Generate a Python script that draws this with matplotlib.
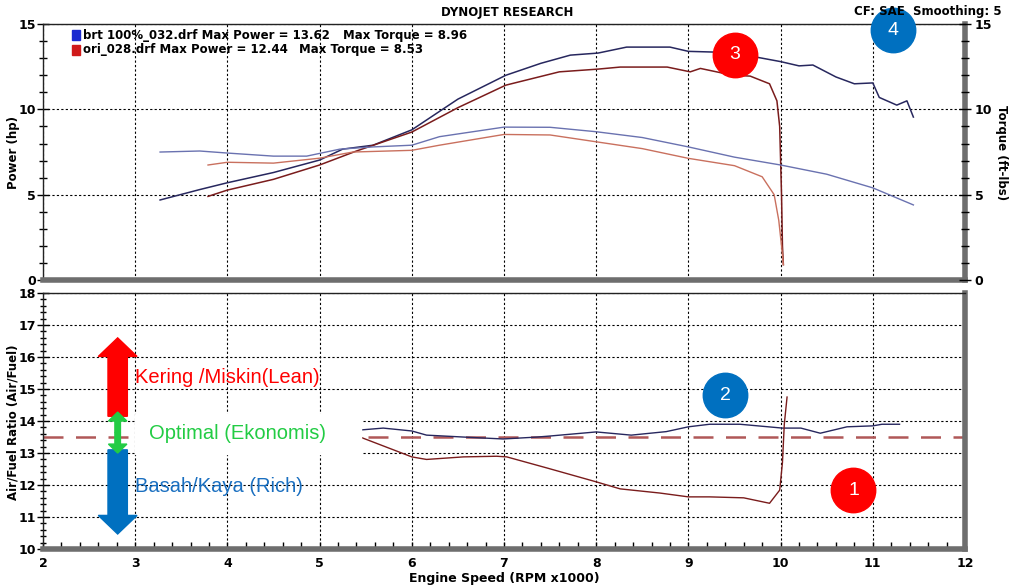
import numpy as np
import matplotlib
matplotlib.use('Agg')
import matplotlib.pyplot as plt
from matplotlib.ticker import MultipleLocator
from matplotlib.patches import FancyArrow, Rectangle

# -------- data read from the dyno sheet --------
# power (hp) vs rpm x1000
rpm_brt_pwr = [3.27, 3.7, 4.0, 4.5, 5.0, 5.25, 5.58, 6.0, 6.5, 7.02, 7.4, 7.72, 8.02, 8.33, 8.8, 9.0,
               9.27, 9.6, 10.0, 10.2, 10.35, 10.6, 10.8, 11.0, 11.07, 11.26, 11.37, 11.44]
brt_power = [4.69, 5.3, 5.7, 6.3, 7.03, 7.67, 7.9, 8.8, 10.6, 12.0, 12.7, 13.18, 13.3, 13.65, 13.65, 13.4,
             13.36, 13.2, 12.8, 12.55, 12.6, 11.9, 11.5, 11.55, 10.7, 10.25, 10.5, 9.55]

rpm_ori_pwr = [3.79, 4.0, 4.5, 5.0, 5.4, 6.0, 6.5, 7.02, 7.6, 8.02, 8.26, 8.77, 9.02, 9.13, 9.48, 9.67,
               9.88, 9.96, 9.99, 10.01, 10.02, 10.03]
ori_power = [4.9, 5.27, 5.9, 6.74, 7.56, 8.67, 10.1, 11.42, 12.2, 12.36, 12.48, 12.48, 12.2, 12.4, 12.0, 11.95,
             11.5, 10.5, 9.0, 5.0, 2.0, 0.9]

# torque (ft-lbs)
rpm_brt_trq = [3.27, 3.7, 4.0, 4.5, 4.86, 5.22, 5.58, 6.0, 6.3, 7.0, 7.5, 8.0, 8.5, 9.0, 9.5, 10.0,
               10.5, 11.0, 11.44]
brt_torque = [7.5, 7.56, 7.44, 7.26, 7.26, 7.67, 7.8, 7.9, 8.4, 8.96, 8.95, 8.69, 8.35, 7.8, 7.2, 6.74,
              6.2, 5.4, 4.4]

rpm_ori_trq = [3.79, 4.0, 4.5, 5.0, 5.36, 6.0, 6.3, 7.0, 7.5, 8.0, 8.5, 9.0, 9.5, 9.8, 9.93, 9.98,
               10.01, 10.03]
ori_torque = [6.74, 6.9, 6.85, 7.14, 7.5, 7.6, 7.9, 8.53, 8.5, 8.1, 7.7, 7.13, 6.7, 6.05, 5.0, 3.5,
              2.0, 0.9]

# air/fuel ratio
rpm_brt_afr = [5.44, 5.69, 6.0, 6.16, 6.56, 6.99, 7.36, 7.49, 8.0, 8.38, 8.76, 9.0, 9.23, 9.56, 10.02,
               10.22, 10.43, 10.72, 11.0, 11.1, 11.29]
brt_afr = [13.72, 13.78, 13.69, 13.56, 13.5, 13.44, 13.5, 13.53, 13.66, 13.56, 13.67, 13.82, 13.9, 13.9,
           13.78, 13.78, 13.62, 13.82, 13.85, 13.9, 13.9]

rpm_ori_afr = [5.44, 6.0, 6.16, 6.56, 6.92, 7.03, 7.47, 8.0, 8.26, 8.69, 9.0, 9.23, 9.6, 9.88, 9.99,
               10.02, 10.04, 10.07]
ori_afr = [13.5, 12.88, 12.8, 12.88, 12.9, 12.88, 12.53, 12.1, 11.88, 11.75, 11.63, 11.63, 11.6, 11.43,
           11.84, 12.7, 13.9, 14.75]

afr_target = 13.5

legend_files = ['brt 100%_032.drf Max Power = 13.62', 'ori_028.drf Max Power = 12.44']
legend_torque = ['Max Torque = 8.96', 'Max Torque = 8.53']

# -------- figure --------
fig = plt.figure(figsize=(10.09, 5.87), dpi=100)
fig.patch.set_facecolor('white')

ax1 = fig.add_axes([0.0426, 0.523, 0.9138, 0.436])
ax2 = fig.add_axes([0.0426, 0.0647, 0.9138, 0.436])

bold = dict(fontweight='bold', fontsize=8.5, family='DejaVu Sans')

for ax in (ax1, ax2):
    ax.set_xlim(2, 12)
    ax.xaxis.set_major_locator(MultipleLocator(1))
    ax.xaxis.set_minor_locator(MultipleLocator(0.2))
    ax.grid(True, which='major', color='black', linestyle=(0, (2, 2)), linewidth=0.8)
    for s in ('left', 'top'):
        ax.spines[s].set_color('#222222')
        ax.spines[s].set_linewidth(1.0)
    for s in ('right', 'bottom'):
        ax.spines[s].set_color('#6e6e6e')
        ax.spines[s].set_linewidth(4)
    ax.tick_params(axis='y', which='both', direction='inout', length=8, width=1, labelsize=9, pad=1)
    ax.tick_params(axis='y', which='minor', length=6)
    ax.tick_params(axis='x', which='both', direction='in', length=5, width=1)

# top panel: power / torque
ax1.set_ylim(0, 15)
ax1.yaxis.set_major_locator(MultipleLocator(5))
ax1.yaxis.set_minor_locator(MultipleLocator(1))
ax1.tick_params(axis='x', which='both', length=0, labelbottom=False)
for lab in ax1.get_yticklabels():
    lab.set_fontweight('bold')
fig.text(0.013, 0.74, 'Power (hp)', rotation=90, ha='center', va='center', **bold)

ax1.plot(rpm_brt_pwr, brt_power, color='#27275e', lw=1.1)
ax1.plot(rpm_ori_pwr, ori_power, color='#7a1c1c', lw=1.1)
ax1.plot(rpm_brt_trq, brt_torque, color='#6a72b0', lw=1.0)
ax1.plot(rpm_ori_trq, ori_torque, color='#c9705e', lw=1.0)

ax1r = ax1.twinx()
ax1r.set_ylim(0, 15)
ax1r.yaxis.set_major_locator(MultipleLocator(5))
ax1r.yaxis.set_minor_locator(MultipleLocator(1))
ax1r.tick_params(axis='y', which='both', direction='inout', length=8, width=1, labelsize=9, pad=3)
ax1r.tick_params(axis='y', which='minor', length=6)
for lab in ax1r.get_yticklabels():
    lab.set_fontweight('bold')
for s in ax1r.spines.values():
    s.set_visible(False)
fig.text(0.993, 0.74, 'Torque (ft-lbs)', rotation=270, ha='center', va='center', **bold)

# legend squares + text
ax1.add_patch(Rectangle((2.32, 14.05), 0.08, 0.6, color='#1a2ad0', clip_on=False))
ax1.add_patch(Rectangle((2.32, 13.2), 0.08, 0.6, color='#d01a1a', clip_on=False))
ax1.text(2.43, 14.35, legend_files[0], va='center', **bold)
ax1.text(2.43, 13.5, legend_files[1], va='center', **bold)
ax1.text(5.25, 14.35, legend_torque[0], va='center', **bold)
ax1.text(4.78, 13.5, legend_torque[1], va='center', **bold)

fig.text(0.503, 0.978, 'DYNOJET RESEARCH', ha='center', va='center', **bold)
fig.text(0.993, 0.98, 'CF: SAE  Smoothing: 5', ha='right', va='center', **bold)

# bottom panel: AFR
ax2.set_ylim(10, 18)
ax2.yaxis.set_major_locator(MultipleLocator(1))
ax2.yaxis.set_minor_locator(MultipleLocator(0.2))
ax2.tick_params(axis='y', which='minor', length=4)
for lab in ax2.get_yticklabels() + ax2.get_xticklabels():
    lab.set_fontweight('bold')
ax2.tick_params(axis='x', labelsize=9, pad=6)
fig.text(0.013, 0.28, 'Air/Fuel Ratio (Air/Fuel)', rotation=90, ha='center', va='center', **bold)
ax2.set_xlabel('Engine Speed (RPM x1000)', fontweight='bold', fontsize=9, labelpad=1)

ax2.axhline(afr_target, color='#b05858', lw=1.8, linestyle=(0, (8, 5)))
ax2.plot(rpm_brt_afr, brt_afr, color='#27275e', lw=1.0)
ax2.plot(rpm_ori_afr, ori_afr, color='#7a1c1c', lw=1.0)

# explanation arrows
ax2.add_patch(FancyArrow(2.81, 14.15, 0, 2.45, width=0.21, head_width=0.42, head_length=0.58,
                         length_includes_head=True, color='#ff0000', clip_on=False, zorder=5))
ax2.add_patch(FancyArrow(2.81, 13.1, 0, -2.63, width=0.21, head_width=0.42, head_length=0.58,
                         length_includes_head=True, color='#0070c0', clip_on=False, zorder=5))
ax2.add_patch(FancyArrow(2.81, 13.64, 0, 0.64, width=0.06, head_width=0.2, head_length=0.28,
                         length_includes_head=True, color='#22cc44', zorder=5))
ax2.add_patch(FancyArrow(2.81, 13.64, 0, -0.64, width=0.06, head_width=0.2, head_length=0.28,
                         length_includes_head=True, color='#22cc44', zorder=5))
ax2.add_patch(Rectangle((3.0, 12.97), 2.45, 1.25, color='white', zorder=4))

ax2.text(3.0, 15.35, 'Kering /Miskin(Lean)', color='#ff0000', fontsize=14.5,
         family='Liberation Sans', va='center', zorder=6)
ax2.text(3.15, 13.6, 'Optimal (Ekonomis)', color='#22cc44', fontsize=14.5,
         family='Liberation Sans', va='center', zorder=6)
ax2.text(3.0, 11.95, 'Basah/Kaya (Rich)', color='#1a6fc0', fontsize=14.5,
         family='Liberation Sans', va='center', zorder=6)

# numbered markers
markers = [(ax2, 10.79, 11.84, '#ff0000', '1'),
           (ax2, 9.4, 14.81, '#0070c0', '2'),
           (ax1, 9.5, 13.2, '#ff0000', '3'),
           (ax1, 11.22, 14.65, '#0070c0', '4')]
for ax, x, y, c, t in markers:
    ax.plot([x], [y], 'o', ms=32, color=c, mec=c, clip_on=False, zorder=10)
    ax.text(x, y, t, color='white', fontsize=14, family='Liberation Sans',
            ha='center', va='center', zorder=11, clip_on=False)

fig.savefig('out.png', dpi=100)
